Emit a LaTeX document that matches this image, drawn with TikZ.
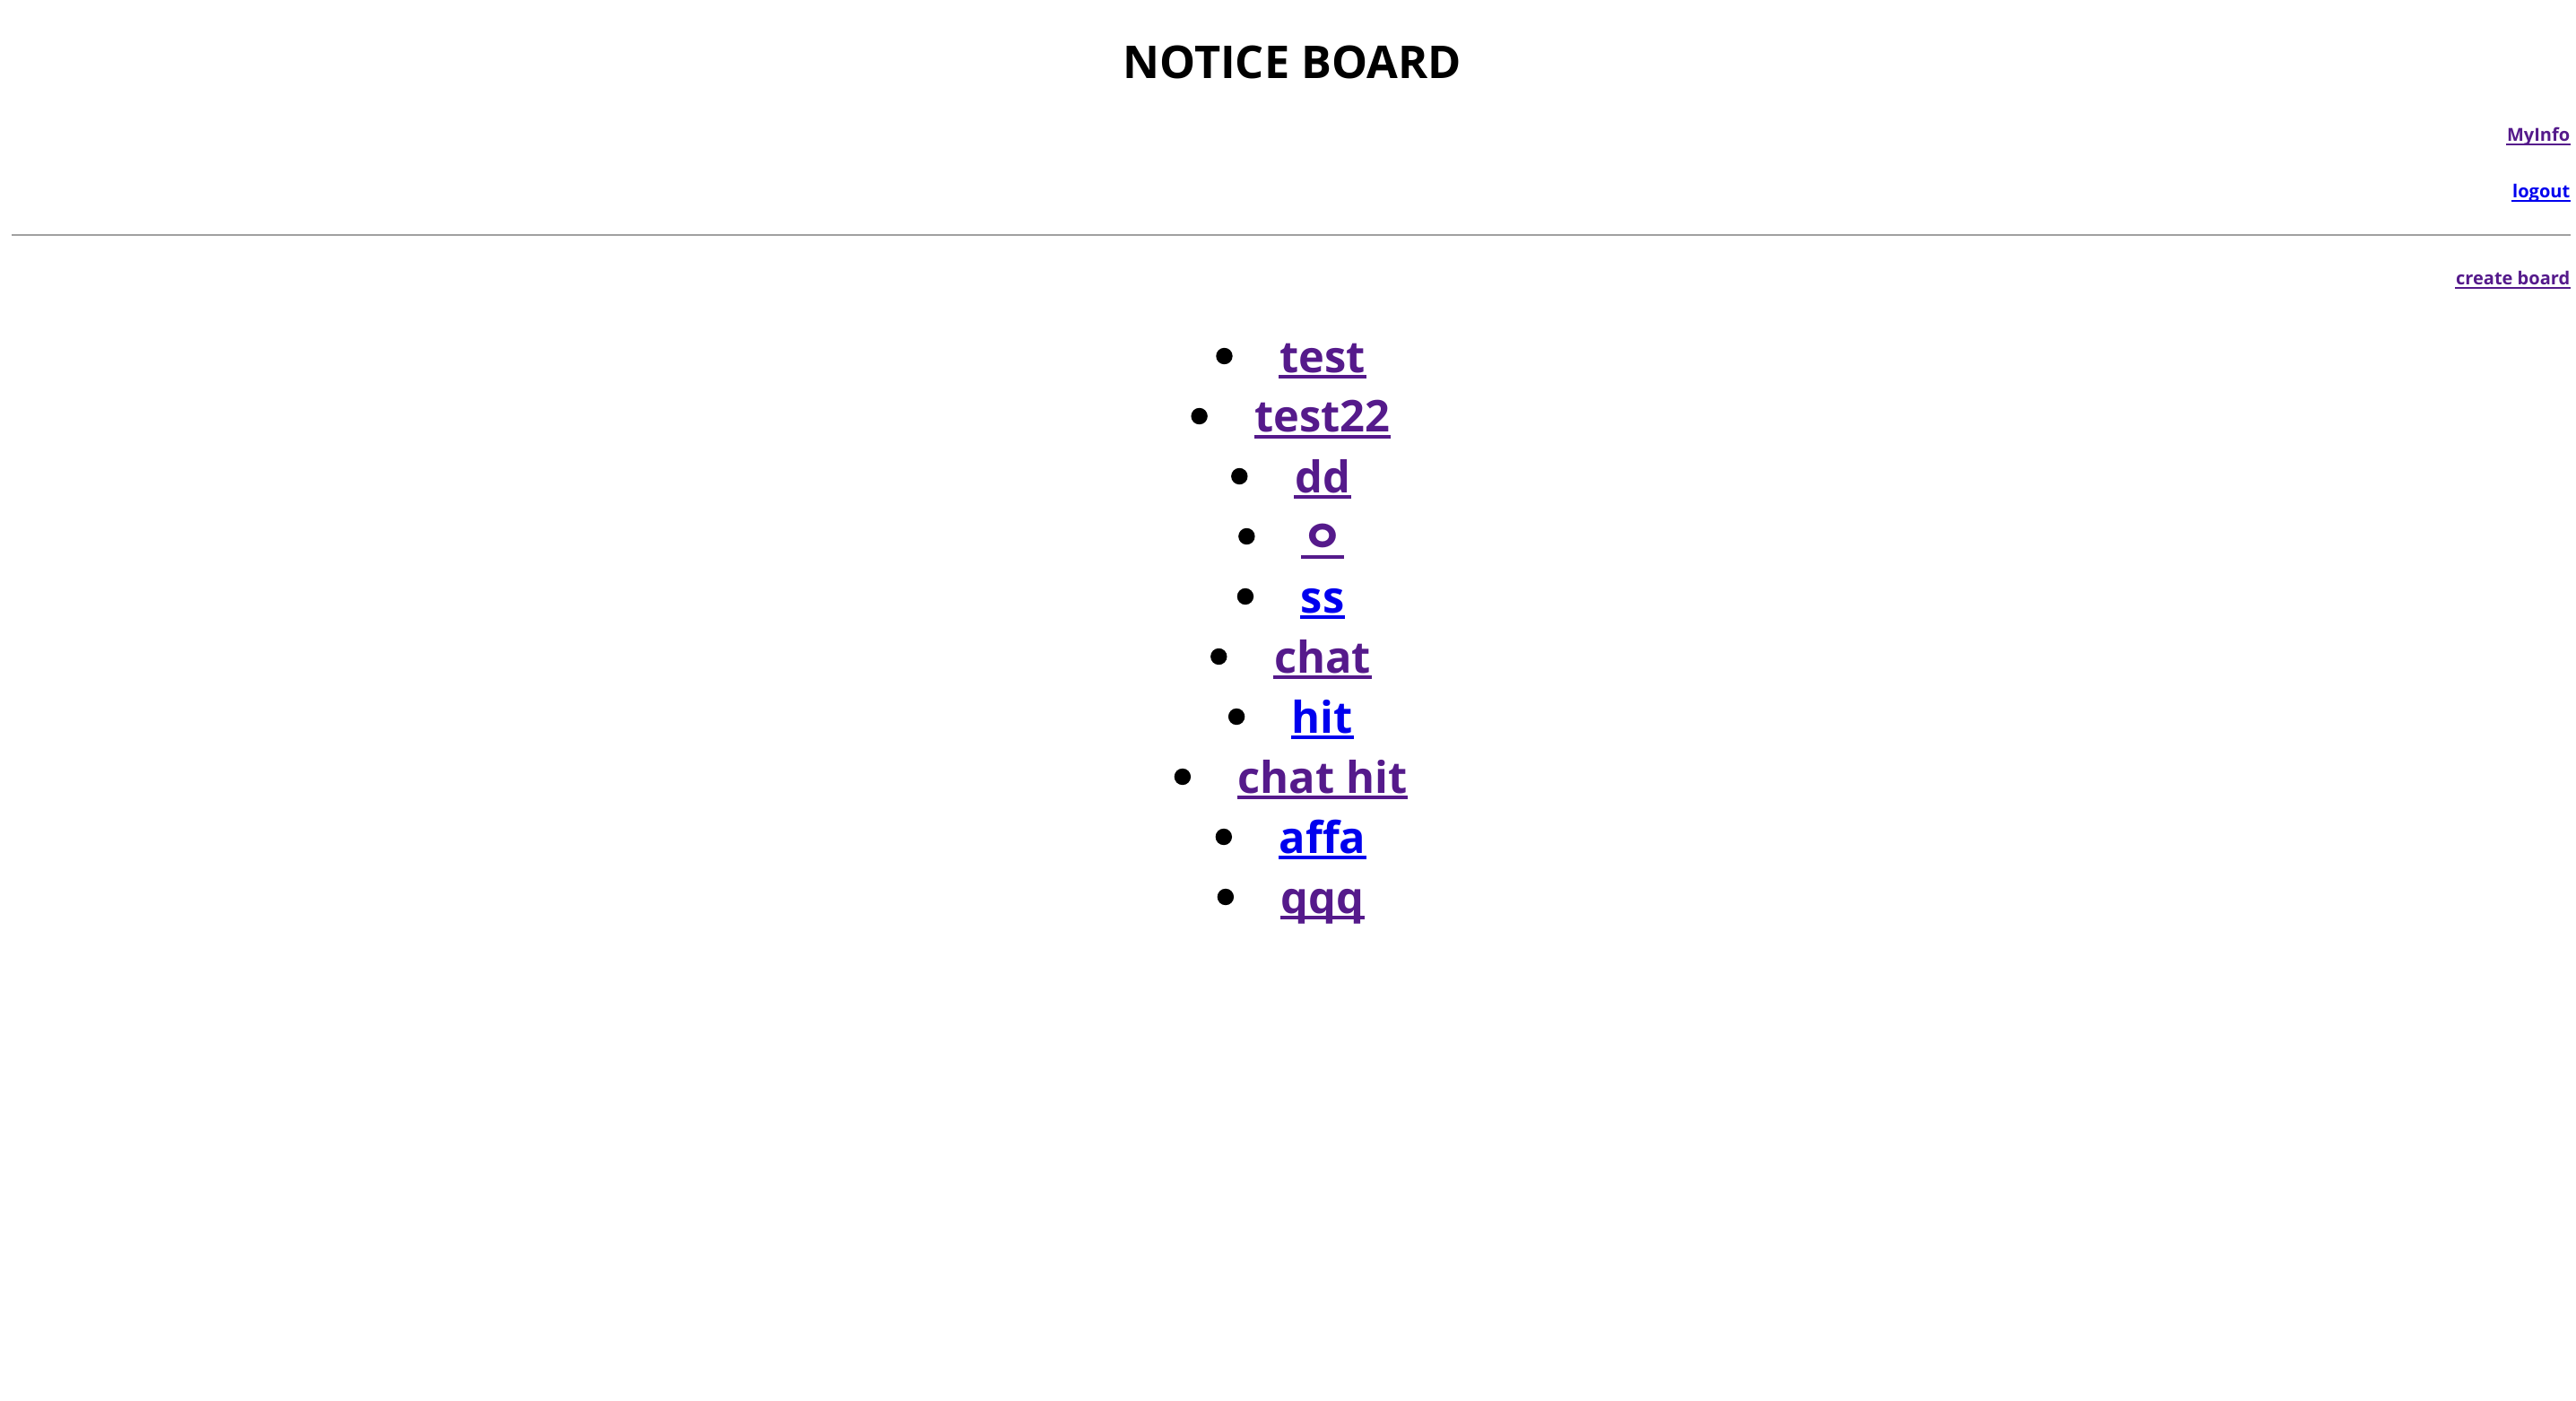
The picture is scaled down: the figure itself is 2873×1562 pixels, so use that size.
\documentclass[tikz,border=0pt]{standalone}
\usepackage{fontspec}
\setmainfont{Open Sans}
\newfontfamily\krfont{Noto Sans CJK KR}
\usepackage{tikz}
\usetikzlibrary{positioning,calc}

\definecolor{visited}{RGB}{85,26,139}
\definecolor{unvisited}{RGB}{0,0,238}
\definecolor{rulegray}{RGB}{160,160,160}

\tikzset{
    title/.style={inner sep=0pt, anchor=base, font=\fontsize{12.6pt}{14pt}\selectfont\bfseries},
    toplink/.style={inner sep=0pt, anchor=base east, font=\fontsize{5pt}{6pt}\selectfont\bfseries},
    item/.style={inner sep=0pt, anchor=base, font=\fontsize{12.2pt}{14pt}\selectfont\bfseries},
    kritem/.style={item, font=\fontsize{12.4pt}{14pt}\selectfont\krfont\bfseries},
    bigline/.style={line width=1pt},
    smallline/.style={line width=0.7pt},
    bullet/.style={circle, fill=black, inner sep=0pt, minimum size=4.6pt}
}

\begin{document}
\begin{tikzpicture}[x=0.25pt, y=-0.25pt]
    \useasboundingbox (0,0) rectangle (2873,1562);

    %coordinates
    \coordinate (T)  at (1441,88);
    \coordinate (M)  at (2867,158);
    \coordinate (LO) at (2867,221);
    \coordinate (CB) at (2867,318);
    \coordinate (HL) at (13,262);
    \coordinate (HR) at (2867,262);

    \coordinate (L0) at (1475,415);
    \coordinate (L1) at ($(L0) + (0,67)$);
    \coordinate (L2) at ($(L1) + (0,67)$);
    \coordinate (L3) at ($(L2) + (0,67)$);
    \coordinate (L4) at ($(L3) + (0,67)$);
    \coordinate (L5) at ($(L4) + (0,67)$);
    \coordinate (L6) at ($(L5) + (0,67)$);
    \coordinate (L7) at ($(L6) + (0,67)$);
    \coordinate (L8) at ($(L7) + (0,67)$);
    \coordinate (L9) at ($(L8) + (0,67)$);

    %nodes
    \node[title] (head) at (T) {NOTICE BOARD};
    \node[toplink, text=visited] (myinfo) at (M) {MyInfo};
    \node[toplink, text=unvisited] (logout) at (LO) {logout};
    \node[toplink, text=visited] (create) at (CB) {create board};

    \node[item, text=visited] (I0) at (L0) {test};
    \node[item, text=visited] (I1) at (L1) {test22};
    \node[item, text=visited] (I2) at (L2) {dd};
    \node[kritem, text=visited] (I3) at (L3) {ㅇ};
    \node[item, text=unvisited] (I4) at (L4) {ss};
    \node[item, text=visited] (I5) at (L5) {chat};
    \node[item, text=unvisited] (I6) at (L6) {hit};
    \node[item, text=visited] (I7) at (L7) {chat hit};
    \node[item, text=unvisited] (I8) at (L8) {affa};
    \node[item, text=visited] (I9) at (L9) {qqq};

    \node[bullet] (B0) at ($(I0.base west) + (-61,-18)$) {};
    \node[bullet] (B1) at ($(I1.base west) + (-61,-18)$) {};
    \node[bullet] (B2) at ($(I2.base west) + (-61,-18)$) {};
    \node[bullet] (B3) at ($(I3.base west) + (-61,-18)$) {};
    \node[bullet] (B4) at ($(I4.base west) + (-61,-18)$) {};
    \node[bullet] (B5) at ($(I5.base west) + (-61,-18)$) {};
    \node[bullet] (B6) at ($(I6.base west) + (-61,-18)$) {};
    \node[bullet] (B7) at ($(I7.base west) + (-61,-18)$) {};
    \node[bullet] (B8) at ($(I8.base west) + (-61,-18)$) {};
    \node[bullet] (B9) at ($(I9.base west) + (-61,-18)$) {};

    %edges
    \draw[rulegray, line width=0.5pt] (HL) -- (HR);

    \draw[smallline, visited] ($(myinfo.base west) + (0,3)$) -- ($(myinfo.base east) + (0,3)$);
    \draw[smallline, unvisited] ($(logout.base west) + (0,3)$) -- ($(logout.base east) + (0,3)$);
    \draw[smallline, visited] ($(create.base west) + (0,3)$) -- ($(create.base east) + (0,3)$);

    \draw[bigline, visited] ($(I0.base west) + (0,5)$) -- ($(I0.base east) + (0,5)$);
    \draw[bigline, visited] ($(I1.base west) + (0,5)$) -- ($(I1.base east) + (0,5)$);
    \draw[bigline, visited] ($(I2.base west) + (0,5)$) -- ($(I2.base east) + (0,5)$);
    \draw[bigline, visited] ($(I3.base west) + (0,5)$) -- ($(I3.base east) + (0,5)$);
    \draw[bigline, unvisited] ($(I4.base west) + (0,5)$) -- ($(I4.base east) + (0,5)$);
    \draw[bigline, visited] ($(I5.base west) + (0,5)$) -- ($(I5.base east) + (0,5)$);
    \draw[bigline, unvisited] ($(I6.base west) + (0,5)$) -- ($(I6.base east) + (0,5)$);
    \draw[bigline, visited] ($(I7.base west) + (0,5)$) -- ($(I7.base east) + (0,5)$);
    \draw[bigline, unvisited] ($(I8.base west) + (0,5)$) -- ($(I8.base east) + (0,5)$);
    \draw[bigline, visited] ($(I9.base west) + (0,5)$) -- ($(I9.base east) + (0,5)$);
  \end{tikzpicture}
\end{document}
